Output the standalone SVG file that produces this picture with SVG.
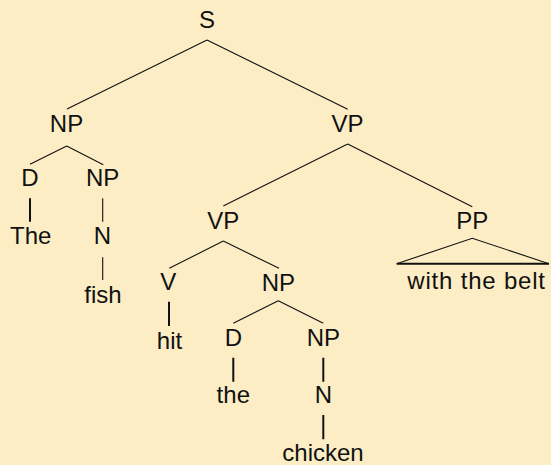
<svg xmlns="http://www.w3.org/2000/svg" width="551" height="465" viewBox="0 0 551 465">
<style>
text{font-family:"Liberation Sans",Arial,sans-serif;font-size:24px;fill:#111;text-anchor:middle}
.e{stroke:#111;stroke-width:1.1;fill:none}
.t{stroke:#111;stroke-width:2;fill:none}
</style>
<rect width="551" height="465" fill="#FDEDC5"/>
<g id="connectors">
<path class="e" d="M207,40L67,109M207,40L347.7,109.3"/>
<path class="e" d="M66.7,146L30,164.3M66.7,146L103.3,164.7"/>
<path class="e" d="M347.7,144L223.3,206M347.7,144L472.3,206.7"/>
<path class="t" d="M30,198.3V221.7"/>
<path class="e" d="M102.7,198.3V221.7M102.7,257.3V280"/>
<path class="e" d="M223.3,241L169.3,268.3M223.3,241L279,268.3"/>
<path class="e" d="M396.7,263.7L472.3,238.3L549,263.7"/>
<path class="t" d="M396.7,263.7H549"/>
<path class="t" d="M169,301.7V326"/>
<path class="e" d="M278.3,300.7L233.3,323.3M278.3,300.7L323.3,323.3"/>
<path class="t" d="M233.3,357.7V381.7M323.3,357.7V381.7M323.3,415V439.3"/>
</g>
<g id="n-S"><text x="207" y="28">S</text></g>
<g id="n-NP1"><text x="66.5" y="132">NP</text></g>
<g id="n-VP1"><text x="347.5" y="132">VP</text></g>
<g id="n-D1"><text x="30" y="186">D</text></g>
<g id="n-NP2"><text x="102.7" y="186">NP</text></g>
<g id="n-VP2"><text x="223.3" y="229.3">VP</text></g>
<g id="n-PP"><text x="472.2" y="229.3">PP</text></g>
<g id="n-The"><text x="30.8" y="244.3">The</text></g>
<g id="n-N1"><text x="102.5" y="244">N</text></g>
<g id="n-V"><text x="168.3" y="290">V</text></g>
<g id="n-NP3"><text x="278.3" y="291">NP</text></g>
<g id="n-fish"><text x="103" y="302.7">fish</text></g>
<g id="n-belt"><text x="476.6" y="289" letter-spacing="0.8">with the belt</text></g>
<g id="n-hit"><text x="169.5" y="349.3">hit</text></g>
<g id="n-D2"><text x="233.3" y="345.7">D</text></g>
<g id="n-NP4"><text x="323.3" y="345.7">NP</text></g>
<g id="n-the"><text x="233.3" y="402.7">the</text></g>
<g id="n-N2"><text x="323.3" y="402.7">N</text></g>
<g id="n-chicken"><text x="323" y="461">chicken</text></g>
</svg>
